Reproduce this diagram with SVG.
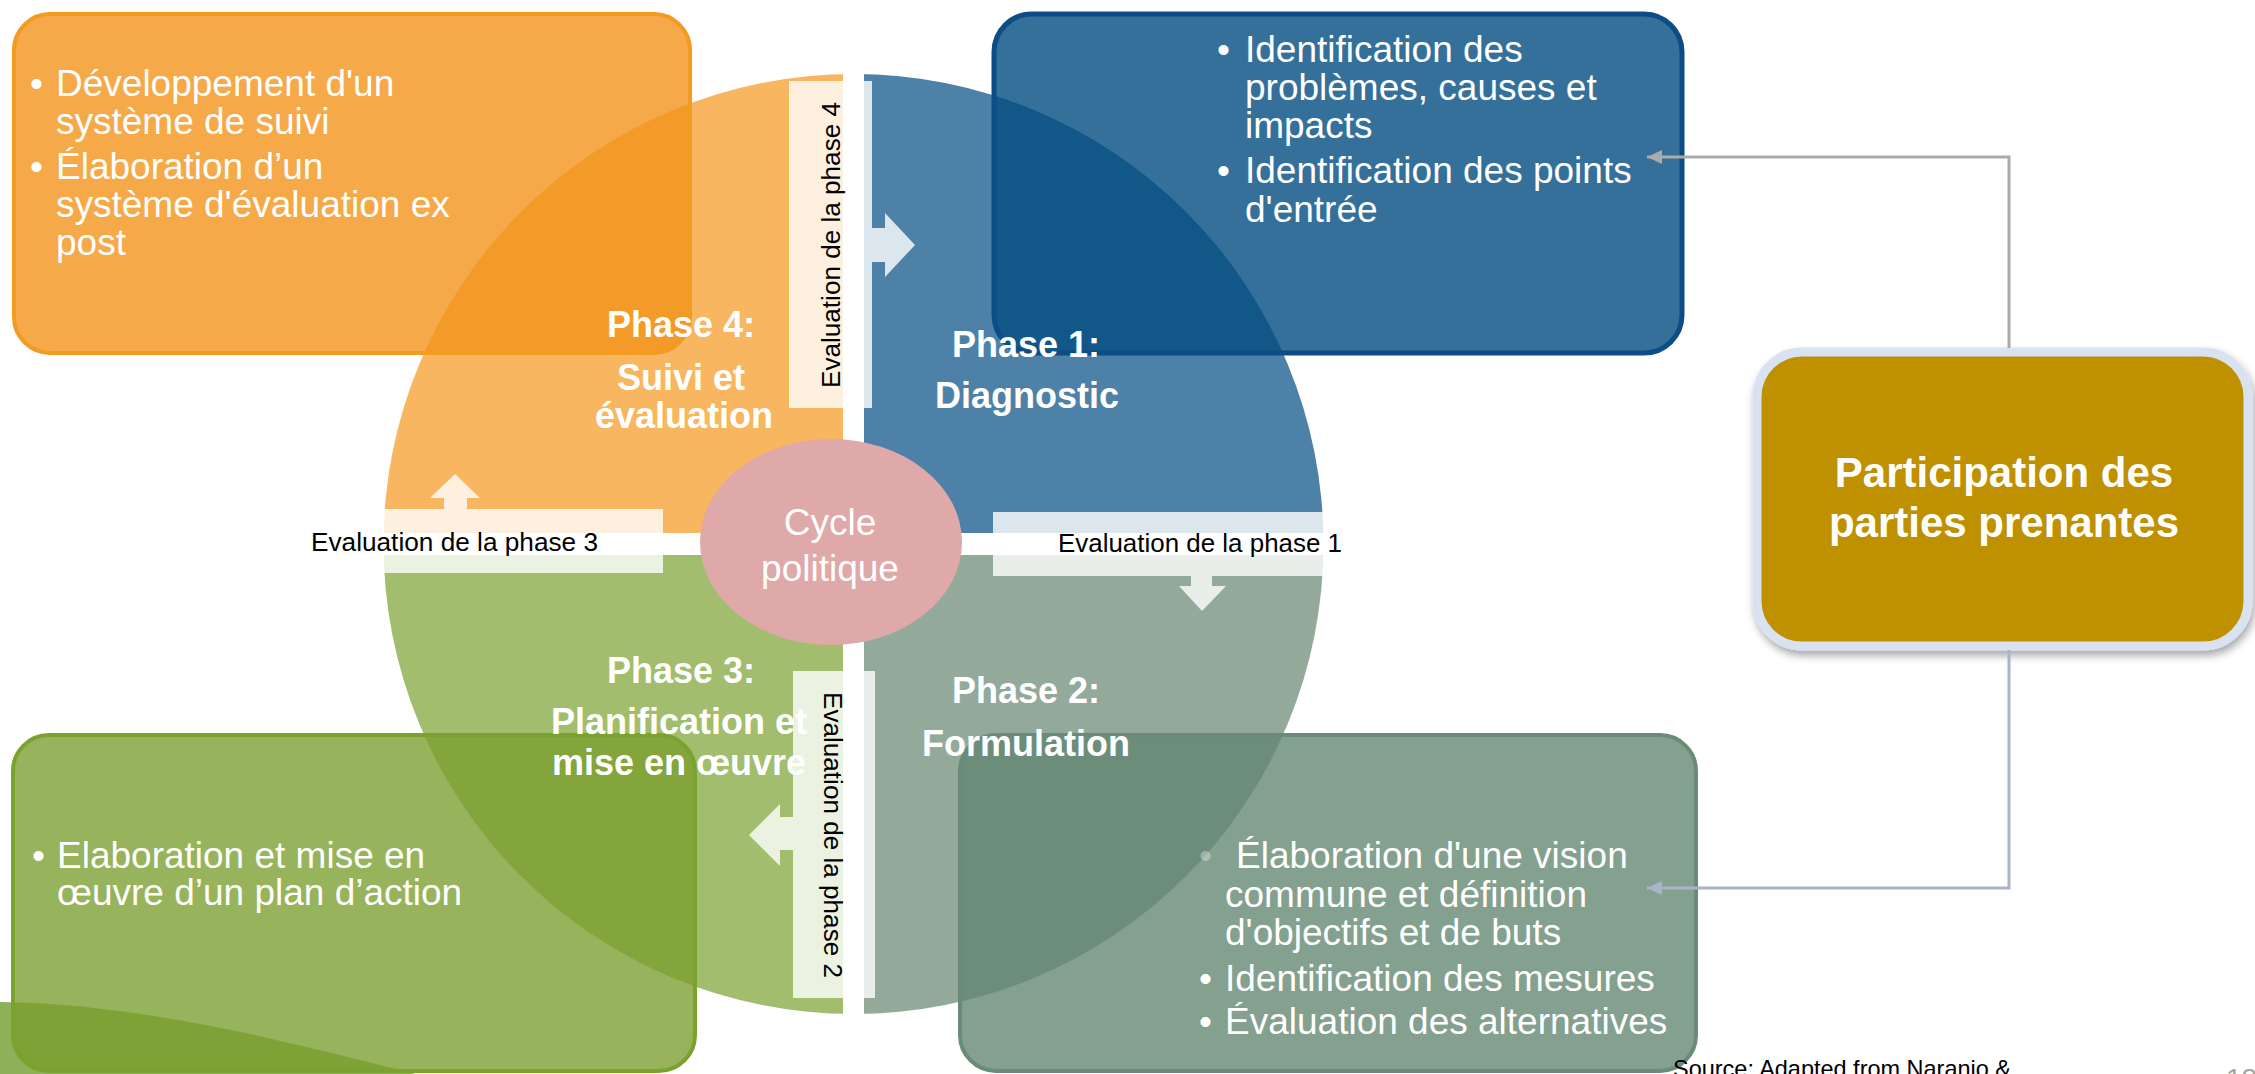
<svg xmlns="http://www.w3.org/2000/svg" width="2255" height="1074" viewBox="0 0 2255 1074">
<style>
text{font-family:"Liberation Sans",Arial,sans-serif}
.bx{font-size:37px;fill:#fff}
.ph{font-size:36px;font-weight:bold;fill:#fff;text-anchor:middle}
.ev{font-size:26px;fill:#000}
.evr{fill:#fff;fill-opacity:0.8}
.conn{fill:none;stroke-width:3}
</style>
<defs>
<clipPath id="circ"><circle cx="853.5" cy="544" r="470"/></clipPath>
<marker id="arrG" markerUnits="userSpaceOnUse" markerWidth="16" markerHeight="15" refX="15" refY="7" orient="auto"><path d="M0,0 L15,7 L0,14 Z" fill="#ABABAB"/></marker>
<marker id="arrB" markerUnits="userSpaceOnUse" markerWidth="16" markerHeight="15" refX="15" refY="7" orient="auto"><path d="M0,0 L15,7 L0,14 Z" fill="#A9B4CA"/></marker>
<filter id="sh" x="-10%" y="-10%" width="130%" height="130%"><feDropShadow dx="2" dy="5" stdDeviation="4" flood-color="#000" flood-opacity="0.35"/></filter>
</defs>

<path id="wave" d="M0,1002 C150,1004 300,1045 432,1078 L0,1078 Z" fill="#8CB158"/>

<g id="cycle">
<g clip-path="url(#circ)">
<rect x="380" y="70" width="463" height="463" fill="#F8B661"/>
<rect x="864" y="70" width="463" height="463" fill="#4E81A7"/>
<rect x="380" y="555" width="463" height="463" fill="#A2BD6D"/>
<rect x="864" y="555" width="463" height="463" fill="#93AA9B"/>
</g>
</g>

<g id="eval4">
<rect class="evr" x="789" y="81" width="83" height="327"/>
<path class="evr" d="M872,228 H885 V213 L915,245 L885,277 V262 H872 Z"/>
<text class="ev" transform="translate(840,388) rotate(-90)" textLength="286" lengthAdjust="spacingAndGlyphs">Evaluation de la phase 4</text>
</g>
<g id="eval1">
<rect class="evr" x="993" y="512" width="345" height="64"/>
<path class="evr" d="M1191,576 V586 H1179 L1202,611 L1226,586 H1212 V576 Z"/>
<text class="ev" x="1058" y="552" textLength="284" lengthAdjust="spacingAndGlyphs">Evaluation de la phase 1</text>
</g>
<g id="eval3">
<rect class="evr" x="365" y="509" width="298" height="64"/>
<path class="evr" d="M444,509 V498 H430 L455,474 L480,498 H467 V509 Z"/>
<text class="ev" x="311" y="551" textLength="287" lengthAdjust="spacingAndGlyphs">Evaluation de la phase 3</text>
</g>
<g id="eval2">
<rect class="evr" x="793" y="671" width="82" height="327"/>
<path class="evr" d="M793,817 H780 V804 L749,835 L780,866 V850 H793 Z"/>
<text class="ev" transform="translate(824,692) rotate(90)" textLength="286" lengthAdjust="spacingAndGlyphs">Evaluation de la phase 2</text>
</g>

<g id="box-phase4">
<rect x="14" y="14" width="676" height="339" rx="36" fill="#F3941A" fill-opacity="0.8" stroke="#F39A20" stroke-width="4"/>
<text class="bx"><tspan x="30" y="96">•</tspan><tspan x="56" y="96">Développement d'un</tspan><tspan x="56" y="134">système de suivi</tspan><tspan x="30" y="179">•</tspan><tspan x="56" y="179">Élaboration d’un</tspan><tspan x="56" y="217">système d'évaluation ex</tspan><tspan x="56" y="255">post</tspan></text>
</g>

<g id="box-phase1">
<rect x="994" y="14" width="688" height="339" rx="38" fill="#034C81" fill-opacity="0.8" stroke="#0D4D85" stroke-width="5"/>
<text class="bx"><tspan x="1217" y="62">•</tspan><tspan x="1245" y="62">Identification des</tspan><tspan x="1245" y="100">problèmes, causes et</tspan><tspan x="1245" y="138">impacts</tspan><tspan x="1217" y="183">•</tspan><tspan x="1245" y="183">Identification des points</tspan><tspan x="1245" y="222">d'entrée</tspan></text>
</g>

<g id="box-phase3">
<rect x="13" y="735" width="682" height="336" rx="36" fill="#7A9E2D" fill-opacity="0.78" stroke="#7AA22E" stroke-width="4"/>
<text class="bx"><tspan x="32" y="868">•</tspan><tspan x="57" y="868">Elaboration et mise en</tspan><tspan x="57" y="905">œuvre d’un plan d’action</tspan></text>
</g>

<g id="box-phase2">
<rect x="960" y="735" width="736" height="336" rx="36" fill="#618570" fill-opacity="0.78" stroke="#6A8B7A" stroke-width="4"/>
<text class="bx"><tspan x="1199" y="868" fill-opacity="0.35">•</tspan><tspan x="1236" y="868">Élaboration d'une vision</tspan><tspan x="1225" y="907">commune et définition</tspan><tspan x="1225" y="945">d'objectifs et de buts</tspan><tspan x="1199" y="991">•</tspan><tspan x="1225" y="991">Identification des mesures</tspan><tspan x="1199" y="1034">•</tspan><tspan x="1225" y="1034">Évaluation des alternatives</tspan></text>
</g>

<g id="labels">
<text class="ph"><tspan x="681" y="337">Phase 4:</tspan><tspan x="681" y="390">Suivi et</tspan><tspan x="684" y="428">évaluation</tspan></text>
<text class="ph"><tspan x="1026" y="357">Phase 1:</tspan><tspan x="1027" y="408">Diagnostic</tspan></text>
<text class="ph"><tspan x="681" y="683">Phase 3:</tspan><tspan x="679" y="734">Planification et</tspan><tspan x="679" y="775">mise en œuvre</tspan></text>
<text class="ph"><tspan x="1026" y="703">Phase 2:</tspan><tspan x="1026" y="756">Formulation</tspan></text>
</g>

<g id="center">
<ellipse cx="831" cy="542" rx="131" ry="103" fill="#DFA8A9"/>
<text font-size="37" fill="#fff" text-anchor="middle"><tspan x="830" y="535">Cycle</tspan><tspan x="830" y="581">politique</tspan></text>
</g>

<g id="participation">
<rect x="1757" y="352" width="491" height="294" rx="45" fill="#BF9000" stroke="#D9E2F1" stroke-width="9" filter="url(#sh)"/>
<text font-size="42" font-weight="bold" fill="#fff" text-anchor="middle"><tspan x="2004" y="487">Participation des</tspan><tspan x="2004" y="537">parties prenantes</tspan></text>
</g>

<g id="connectors">
<path class="conn" d="M2009,348 V157 H1647" stroke="#ABABAB" marker-end="url(#arrG)"/>
<path class="conn" d="M2009,650 V888 H1647" stroke="#A9B4CA" marker-end="url(#arrB)"/>
</g>

<text x="1673" y="1077" font-size="24" fill="#000" textLength="338" lengthAdjust="spacingAndGlyphs">Source: Adapted from Naranjo &amp;</text>
<text x="2226" y="1088" font-size="28" fill="#A6A6A6">12</text>
</svg>
